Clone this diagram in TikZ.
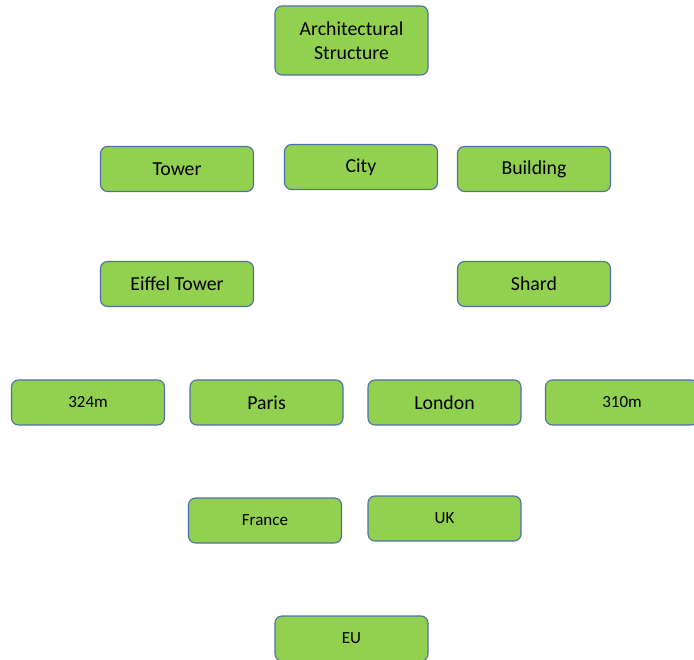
\documentclass[tikz,border=0pt]{standalone}
\usepackage{fontspec}
\setmainfont{Carlito}
\definecolor{boxfill}{HTML}{92D050}
\definecolor{boxline}{HTML}{4F6FA8}
\begin{document}
\begin{tikzpicture}[x=1pt,y=-1pt,
  termbox/.style={draw=boxline, fill=boxfill, line width=1.1pt, rounded corners=7pt,
    minimum width=153pt, minimum height=45pt, inner sep=0pt, align=center,
    font=\fontsize{19.8}{23.5}\selectfont, text=black},
  smallbox/.style={termbox, font=\fontsize{17}{20}\selectfont}]
\useasboundingbox (0,0) rectangle (694,660);
\clip (0,0) rectangle (694,660);
\node[termbox, minimum height=69pt] (arch) at (351.5,40.5) {Architectural\\Structure};
\node[termbox] (tower) at (177,169) {Tower};
\node[termbox] (city) at (361,167) {City};
\node[termbox] (building) at (534,169) {Building};
\node[termbox] (eiffel) at (177,284) {Eiffel Tower};
\node[termbox] (shard) at (534,284) {Shard};
\node[smallbox] (h324) at (88,402.5) {324m};
\node[termbox] (paris) at (266.5,402.5) {Paris};
\node[termbox] (london) at (444.5,402.5) {London};
\node[smallbox] (h310) at (622,402.5) {310m};
\node[smallbox] (france) at (265,520.5) {France};
\node[smallbox] (uk) at (444.5,518.5) {UK};
\node[smallbox] (eu) at (351.5,638.5) {EU};
\end{tikzpicture}
\end{document}
